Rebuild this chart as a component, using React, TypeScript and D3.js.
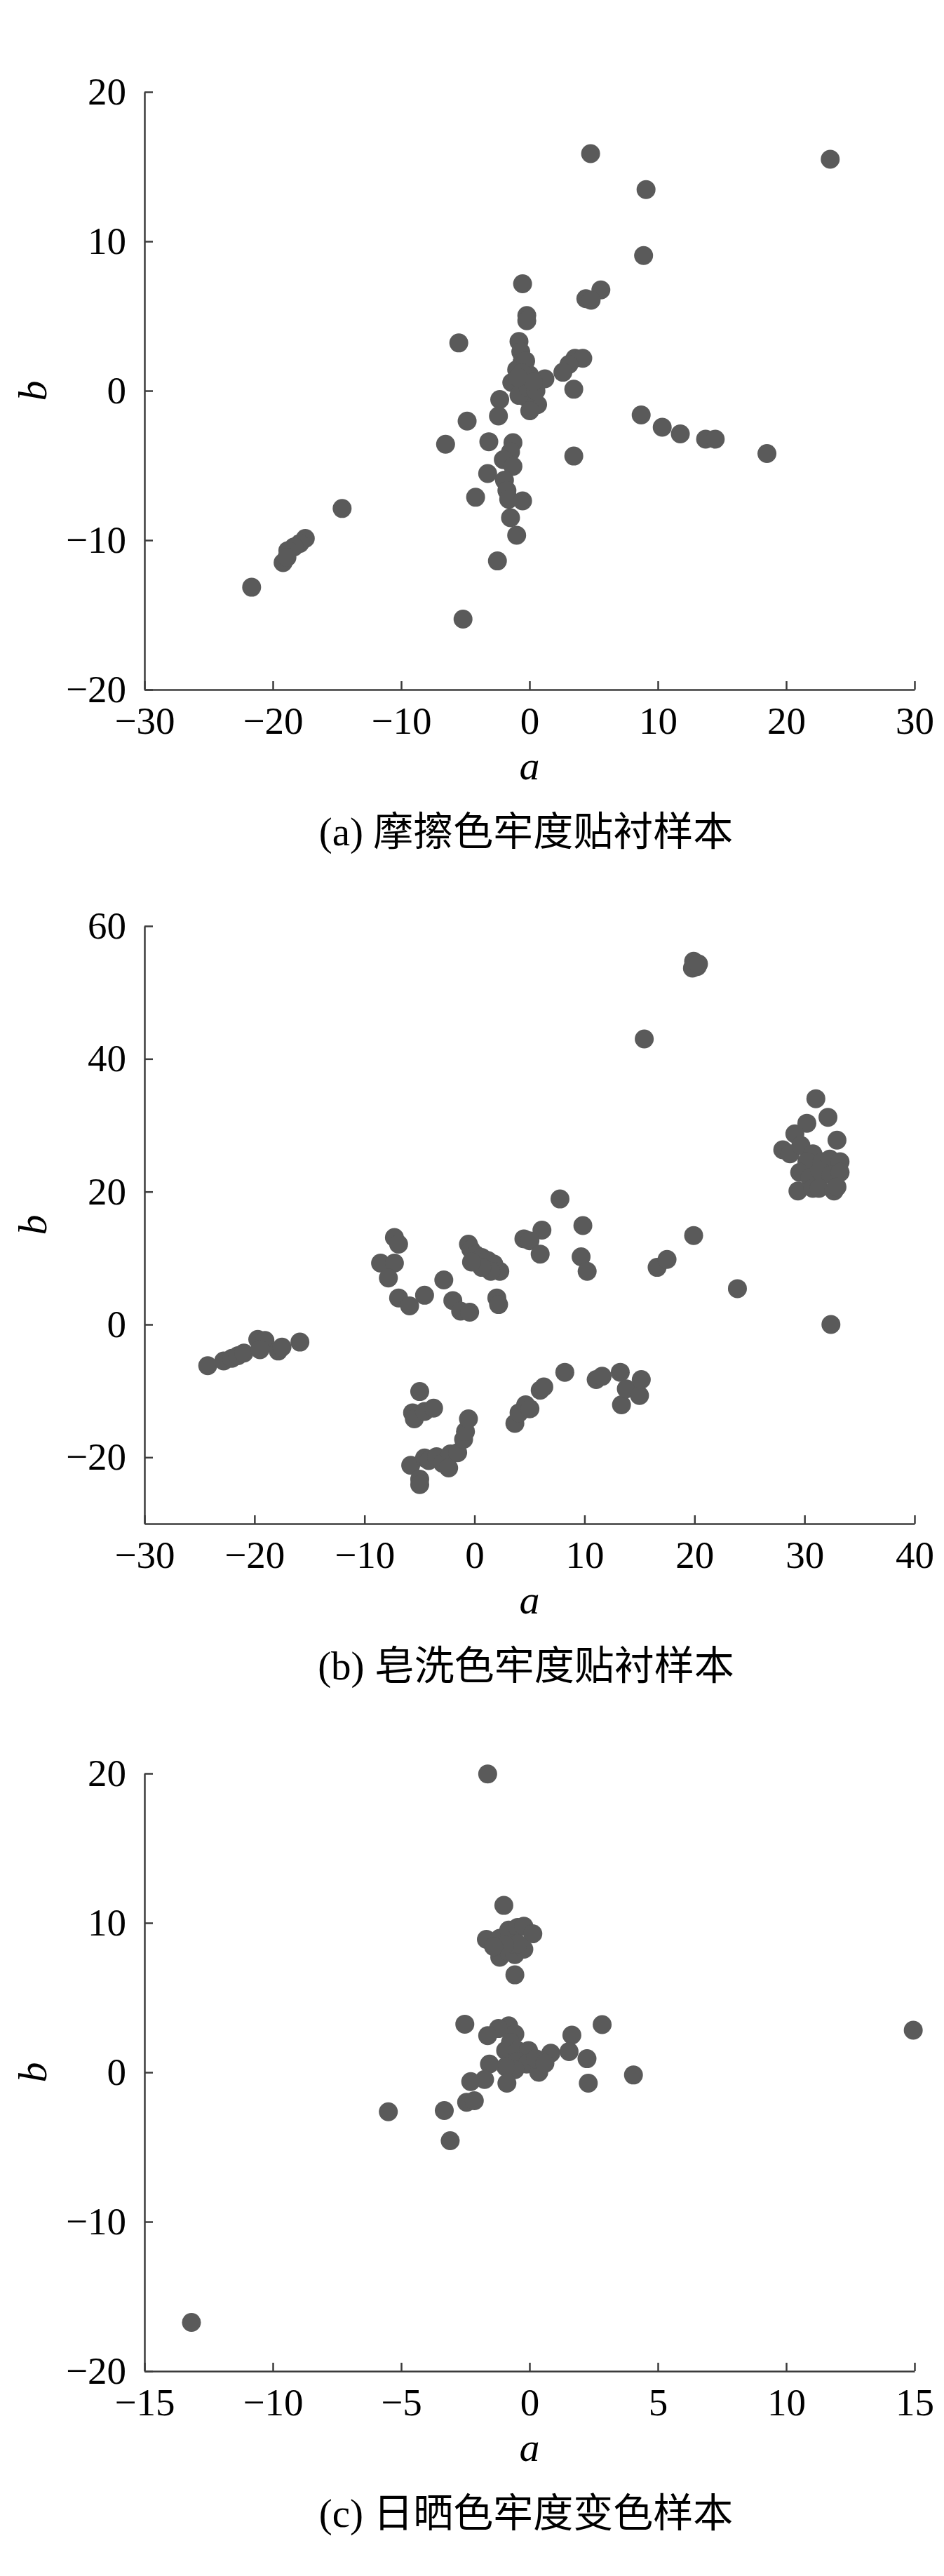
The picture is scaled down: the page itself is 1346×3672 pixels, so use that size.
import React, { useEffect, useRef } from 'react';
import * as d3 from 'd3';

type Pt = [number, number];

// (a) rubbing fastness
const rubData: Pt[] = [
  [4.76, 15.87], [23.43, 15.49], [9.08, 13.46], [8.89, 9.05], [-0.54, 7.16], [5.56, 6.75],
  [4.39, 6.16], [4.8, 6.06], [-0.21, 5.03], [-0.21, 4.68], [-5.51, 3.2], [-0.82, 3.3],
  [-0.68, 2.6], [-0.59, 1.9], [3.54, 2.17], [4.15, 2.17], [3.07, 1.76], [2.6, 1.24],
  [1.2, 0.8], [-1.0, 1.41], [-1.38, 0.55], [-0.45, 0.38], [0.0, 1.07], [0.26, -0.14],
  [-0.21, -0.48], [0.63, -0.93], [0.02, -1.34], [-0.82, -0.31], [3.45, 0.1], [-2.32, -0.59],
  [-2.42, -1.69], [-4.86, -2.03], [-6.54, -3.58], [-3.17, -3.41], [-1.29, -3.48], [-1.48, -4.1],
  [-2.04, -4.61], [-1.29, -5.06], [-3.26, -5.54], [-1.95, -5.99], [-1.76, -6.68], [-1.62, -7.26],
  [-0.54, -7.37], [-4.2, -7.13], [-1.48, -8.5], [-1.0, -9.67], [3.45, -4.37], [8.7, -1.62],
  [10.34, -2.44], [11.75, -2.89], [13.72, -3.24], [14.47, -3.24], [18.5, -4.2], [-2.5, -11.39],
  [-5.18, -15.28], [-14.6, -7.88], [-17.47, -9.88], [-17.9, -10.22], [-18.36, -10.46], [-18.83, -10.7],
  [-19.2, -11.5], [-18.9, -11.15], [-21.65, -13.15], [-0.3, 2.0], [-0.1, 0.2], [0.5, 0.0],
  [-0.6, 1.2], [0.3, 0.6], [-0.9, 0.9],
];

// (b) soaping fastness
const soapData: Pt[] = [
  [19.92, 54.7], [20.25, 53.9], [19.81, 53.66], [20.36, 54.3], [15.43, 43.0],
  [31.03, 34.0], [32.13, 31.2], [30.21, 30.3], [29.12, 28.7], [32.95, 27.75], [28.02, 26.3],
  [28.68, 25.7], [29.67, 26.95], [30.76, 25.7], [30.21, 24.5], [31.58, 24.5], [32.3, 24.9],
  [33.23, 24.5], [29.56, 22.9], [30.49, 22.1], [31.42, 23.1], [32.4, 22.5], [33.23, 22.9],
  [29.4, 20.1], [30.76, 20.5], [31.31, 20.5], [32.68, 20.1], [32.95, 20.7], [32.4, 0.0],
  [7.77, 18.9], [9.85, 14.9], [6.13, 14.2], [4.49, 12.9], [5.04, 12.6], [5.97, 10.6],
  [9.69, 10.2], [10.24, 8.0], [19.92, 13.4], [16.6, 8.6], [17.5, 9.8], [23.9, 5.4],
  [-0.55, 12.1], [-0.33, 11.3], [0.11, 10.5], [0.66, 10.1], [1.2, 9.65], [1.75, 9.1],
  [2.3, 8.0], [1.48, 8.0], [0.66, 8.6], [-0.27, 9.4],
  [-7.28, 13.1], [-6.9, 12.1], [-8.54, 9.25], [-7.28, 9.25], [-7.83, 7.0], [-6.9, 4.0],
  [-5.9, 2.8], [-4.54, 4.4], [-2.79, 6.7], [-1.97, 3.6], [-1.26, 2.0], [-0.44, 1.85],
  [2.03, 4.0], [2.19, 3.0],
  [-24.25, -6.2], [-22.8, -5.5], [-22.06, -5.1], [-21.5, -4.7], [-20.96, -4.3], [-19.7, -2.25],
  [-19.05, -2.4], [-19.5, -3.8], [-17.84, -4.0], [-17.5, -3.4], [-15.87, -2.65],
  [-4.98, -10.1], [-5.63, -13.3], [-5.47, -14.2], [-4.54, -13.1], [-3.72, -12.6], [-5.8, -21.2],
  [-4.98, -23.3], [-4.98, -24.1], [-4.54, -20.1], [-4.16, -20.5], [-3.45, -19.9], [-2.9, -20.9],
  [-2.19, -19.5], [-2.35, -21.6], [-1.53, -19.3], [-0.99, -17.3], [-0.82, -16.1], [-0.55, -14.2],
  [3.67, -14.9], [4.05, -13.3], [4.65, -12.1], [5.04, -12.7], [5.97, -9.9], [6.3, -9.4],
  [8.21, -7.2], [11.06, -8.3], [11.6, -7.8], [13.25, -7.2], [13.36, -12.1], [13.8, -9.7],
  [15.0, -10.7], [15.16, -8.3],
];

// (c) sunlight fastness
const sunData: Pt[] = [
  [-1.63, 19.96], [-1.0, 11.17], [-1.68, 8.9], [-1.16, 8.97], [-0.81, 9.52], [-0.46, 9.7],
  [-0.22, 9.78], [0.13, 9.27], [-1.16, 7.7], [-0.81, 8.06], [-0.57, 7.88], [-0.22, 8.24],
  [-0.69, 8.6], [-0.46, 8.6], [-0.97, 8.53], [-1.4, 8.42], [-0.57, 6.52], [-2.52, 3.22],
  [2.83, 3.19], [14.95, 2.82], [-0.81, 3.11], [-1.21, 2.93], [-1.63, 2.45], [-0.57, 2.56],
  [1.65, 2.49], [-0.74, 2.0], [-0.93, 1.46], [-0.46, 1.46], [-0.04, 1.46], [0.83, 1.28],
  [1.54, 1.39], [-0.46, 0.73], [-0.11, 0.55], [0.36, 0.0], [-0.57, 0.18], [-0.93, 0.37],
  [2.24, 0.91], [-1.56, 0.55], [-1.75, -0.48], [-2.29, -0.62], [-0.88, -0.73], [2.29, -0.73],
  [4.05, -0.18], [-2.45, -2.01], [-2.15, -1.9], [-3.32, -2.56], [-5.5, -2.64], [-3.09, -4.58],
  [-13.17, -16.74], [0.25, 0.9], [0.6, 0.6],
];

const xTicksA = [-30, -20, -10, 0, 10, 20, 30];
const yTicksA = [-20, -10, 0, 10, 20];
const xTicksB = [-30, -20, -10, 0, 10, 20, 30, 40];
const yTicksB = [-20, 0, 20, 40, 60];
const xTicksC = [-15, -10, -5, 0, 5, 10, 15];
const yTicksC = [-20, -10, 0, 10, 20];

const captions = ['(a) 摩擦色牢度贴衬样本', '(b) 皂洗色牢度贴衬样本', '(c) 日晒色牢度变色样本'];

const panels = [
  { data: rubData, xDom: [-30, 30], yDom: [-20, 20], xTicks: xTicksA, yTicks: yTicksA, top: 131, bottom: 983 },
  { data: soapData, xDom: [-30, 40], yDom: [-30, 60], xTicks: xTicksB, yTicks: yTicksB, top: 1320, bottom: 2172 },
  { data: sunData, xDom: [-15, 15], yDom: [-20, 20], xTicks: xTicksC, yTicks: yTicksC, top: 2528, bottom: 3380 },
];

const W = 1346;
const H = 3672;
const LEFT = 206;
const RIGHT = 1304;
const FONT = "'Liberation Serif', 'DejaVu Serif', serif";
const CJK = "'Liberation Serif', 'Noto Sans CJK SC', serif";
const AXIS = '#3c3c3c';
const DOT = '#5a5a5a';

const fmt = (d: number) => (d < 0 ? '\u2212' + Math.abs(d) : String(d));

export default function App() {
  const ref = useRef<SVGSVGElement>(null);

  useEffect(() => {
    document.body.style.margin = '0';
    if (!ref.current) return;
    const svg = d3.select(ref.current);
    svg.selectAll('*').remove();

    svg.append('rect').attr('width', W).attr('height', H).attr('fill', '#fff');

    panels.forEach((p, i) => {
      const x = d3.scaleLinear().domain(p.xDom).range([LEFT, RIGHT]);
      const y = d3.scaleLinear().domain(p.yDom).range([p.bottom, p.top]);
      const g = svg.append('g');

      // dots
      g.append('g')
        .selectAll('circle')
        .data(p.data)
        .enter()
        .append('circle')
        .attr('cx', d => x(d[0]))
        .attr('cy', d => y(d[1]))
        .attr('r', 13.5)
        .attr('fill', DOT);

      // axes
      const xAxis = g.append('g')
        .attr('transform', `translate(0,${p.bottom})`)
        .call(d3.axisBottom(x).tickValues(p.xTicks).tickSizeInner(-12).tickSizeOuter(0).tickPadding(24).tickFormat(d => fmt(+d)));
      const yAxis = g.append('g')
        .attr('transform', `translate(${LEFT},0)`)
        .call(d3.axisLeft(y).tickValues(p.yTicks).tickSizeInner(-12).tickSizeOuter(0).tickPadding(26).tickFormat(d => fmt(+d)));

      [xAxis, yAxis].forEach(ax => {
        ax.attr('font-family', null).attr('font-size', null);
        ax.selectAll('path, line').attr('stroke', AXIS).attr('stroke-width', 2.5);
        ax.selectAll('text')
          .attr('fill', '#000')
          .style('font-family', FONT)
          .style('font-size', '55px');
      });

      // axis titles
      g.append('text')
        .attr('x', (LEFT + RIGHT) / 2)
        .attr('y', p.bottom + 128)
        .attr('text-anchor', 'middle')
        .style('font-family', FONT)
        .style('font-style', 'italic')
        .style('font-size', '58px')
        .text('a');

      g.append('text')
        .attr('transform', `translate(66,${(p.top + p.bottom) / 2}) rotate(-90)`)
        .attr('text-anchor', 'middle')
        .style('font-family', FONT)
        .style('font-style', 'italic')
        .style('font-size', '58px')
        .text('b');

      // caption
      g.append('text')
        .attr('x', 750)
        .attr('y', p.bottom + 222)
        .attr('text-anchor', 'middle')
        .style('font-family', CJK)
        .style('font-size', '57px')
        .text(captions[i]);
    });
  }, []);

  return <svg ref={ref} width={W} height={H} style={{ display: 'block' }} />;
}
